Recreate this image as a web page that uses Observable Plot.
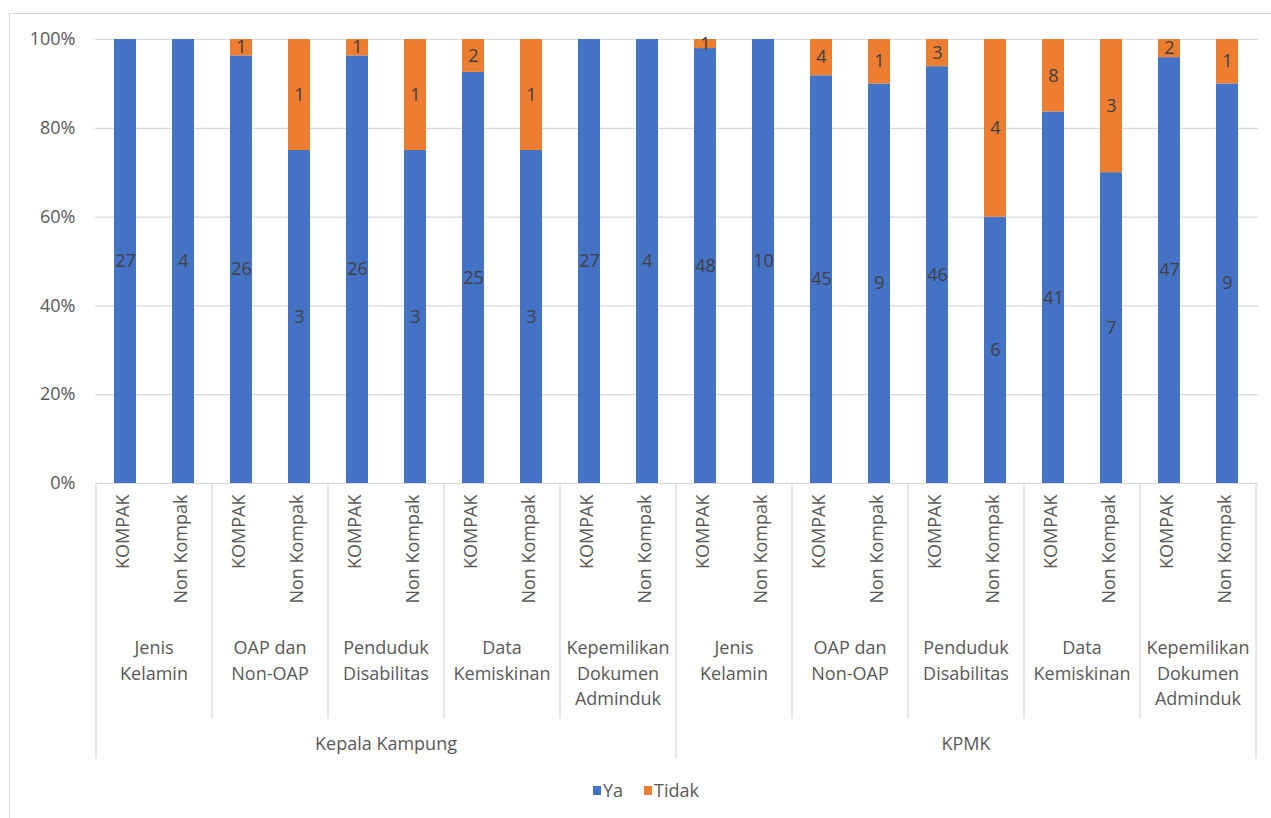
<!DOCTYPE html>
<html>
<head>
<meta charset="utf-8">
<script src="https://cdn.jsdelivr.net/npm/d3@7"></script>
<script src="https://cdn.jsdelivr.net/npm/@observablehq/plot@0.6"></script>
<style>
  body { margin: 0; background: #fff; font-family: "Open Sans", sans-serif; }
  #wrap { position: relative; width: 1271px; height: 818px; overflow: hidden; }
  #frame { position: absolute; left: 9px; top: 13px; right: -4px; bottom: -4px;
           border-left: 1px solid #d9d9d9; border-top: 1px solid #d9d9d9; }
  #chart { position: absolute; left: 0; top: 0; }
  #legend { position: absolute; top: 778px; left: 593px; display: flex; align-items: center;
            font-size: 18px; color: #595959; white-space: nowrap; }
  #legend .sw { display: inline-block; width: 8px; height: 9px; margin-right: 2px; }
  #legend .item { display: flex; align-items: center; margin-right: 21px; }
</style>
</head>
<body>
<div id="wrap">
  <div id="frame"></div>
  <div id="chart"></div>
  <div id="legend"></div>
</div>
<script>
// Respondent groups, topics and programme types along the x axis
const groups = ["Kepala Kampung", "KPMK"];
const topics = ["Jenis\nKelamin", "OAP dan\nNon-OAP", "Penduduk\nDisabilitas", "Data\nKemiskinan", "Kepemilikan\nDokumen\nAdminduk"];
const programs = ["KOMPAK", "Non Kompak"];
const answers = ["Ya", "Tidak"];
const answerColors = ["#4472C4", "#ED7D31"];

// Counts per bar: Kepala Kampung (10 bars) then KPMK (10 bars)
const yaCounts    = [27, 4, 26, 3, 26, 3, 25, 3, 27, 4, 48, 10, 45, 9, 46, 6, 41, 7, 47, 9];
const tidakCounts = [ 0, 0,  1, 1,  1, 1,  2, 1,  0, 0,  1,  0,  4, 1,  3, 4,  8, 3,  2, 1];

const yTicks = [0, 0.2, 0.4, 0.6, 0.8, 1];

const bars = yaCounts.map((_, i) => ({
  id: String(i),
  group: groups[Math.floor(i / 10)],
  topic: topics[Math.floor((i % 10) / 2)],
  program: programs[i % 2]
}));

const counts = bars.flatMap((b, i) => [
  {...b, answer: "Ya", value: yaCounts[i]},
  {...b, answer: "Tidak", value: tidakCounts[i]}
]).filter(d => d.value > 0);

const W = 1271, H = 775, ML = 95, MR = 13, MT = 39, MB = 292;
const textColor = "#595959";
const lineColor = "#d9d9d9";

const stackOpts = {x: "id", y: "value", z: "answer", offset: "normalize", order: answers};

const chart = Plot.plot({
  width: W,
  height: H,
  marginLeft: ML,
  marginRight: MR,
  marginTop: MT,
  marginBottom: MB,
  style: {fontFamily: '"Open Sans", sans-serif', fontSize: "18px", color: textColor, background: "transparent", overflow: "visible"},
  x: {type: "band", domain: bars.map(d => d.id), paddingInner: 0.62, paddingOuter: 0.31, axis: null},
  y: {domain: [0, 1], ticks: yTicks, tickFormat: d3.format(".0%"), tickSize: 0, tickPadding: 20, label: null},
  color: {domain: answers, range: answerColors},
  marks: [
    Plot.gridY(yTicks, {stroke: lineColor, strokeOpacity: 1, strokeWidth: 1.2}),
    Plot.barY(counts, Plot.stackY({...stackOpts, fill: "answer"})),
    Plot.text(counts, Plot.stackY({...stackOpts, text: "value", fill: "#404040", fontSize: 18})),
    // programme labels under each bar, reading upwards
    Plot.text(bars, {x: "id", text: "program", frameAnchor: "bottom", rotate: -90, textAnchor: "end",
                     dy: 11, dx: 3, fill: textColor, fontSize: 18})
  ]
});

document.getElementById("chart").appendChild(chart);

// Multi-level category axis: topic and group labels with separators
const xs = chart.scale("x");
const gap = xs.step - xs.bandwidth;
const boundary = k => k < bars.length
  ? xs.apply(bars[k].id) - gap / 2
  : xs.apply(bars[k - 1].id) + xs.bandwidth + gap / 2;
const y0 = H - MB;
const svg = d3.select(chart);
const axis = svg.append("g")
  .attr("font-family", '"Open Sans", sans-serif')
  .attr("font-size", 18)
  .attr("fill", textColor);

for (let k = 0; k <= bars.length; k += 2) {
  const major = k % 10 === 0;
  axis.append("line")
    .attr("x1", boundary(k)).attr("x2", boundary(k))
    .attr("y1", y0).attr("y2", major ? y0 + 275 : y0 + 235)
    .attr("stroke", lineColor).attr("stroke-width", 1.2);
}

for (let k = 0; k < bars.length; k += 2) {
  const cx = (boundary(k) + boundary(k + 2)) / 2;
  const t = axis.append("text").attr("text-anchor", "middle");
  bars[k].topic.split("\n").forEach((line, j) => {
    t.append("tspan").attr("x", cx).attr("y", y0 + 164 + j * 25.5)
      .attr("dominant-baseline", "central").text(line);
  });
}

groups.forEach((g, gi) => {
  const cx = (boundary(gi * 10) + boundary(gi * 10 + 10)) / 2;
  axis.append("text").attr("text-anchor", "middle").attr("dominant-baseline", "central")
    .attr("x", cx).attr("y", y0 + 260).text(g);
});

// Legend below the chart
const legend = d3.select("#legend");
answers.forEach((a, i) => {
  const item = legend.append("span").attr("class", "item");
  item.append("span").attr("class", "sw").style("background", answerColors[i]);
  item.append("span").text(a);
});
</script>
</body>
</html>
